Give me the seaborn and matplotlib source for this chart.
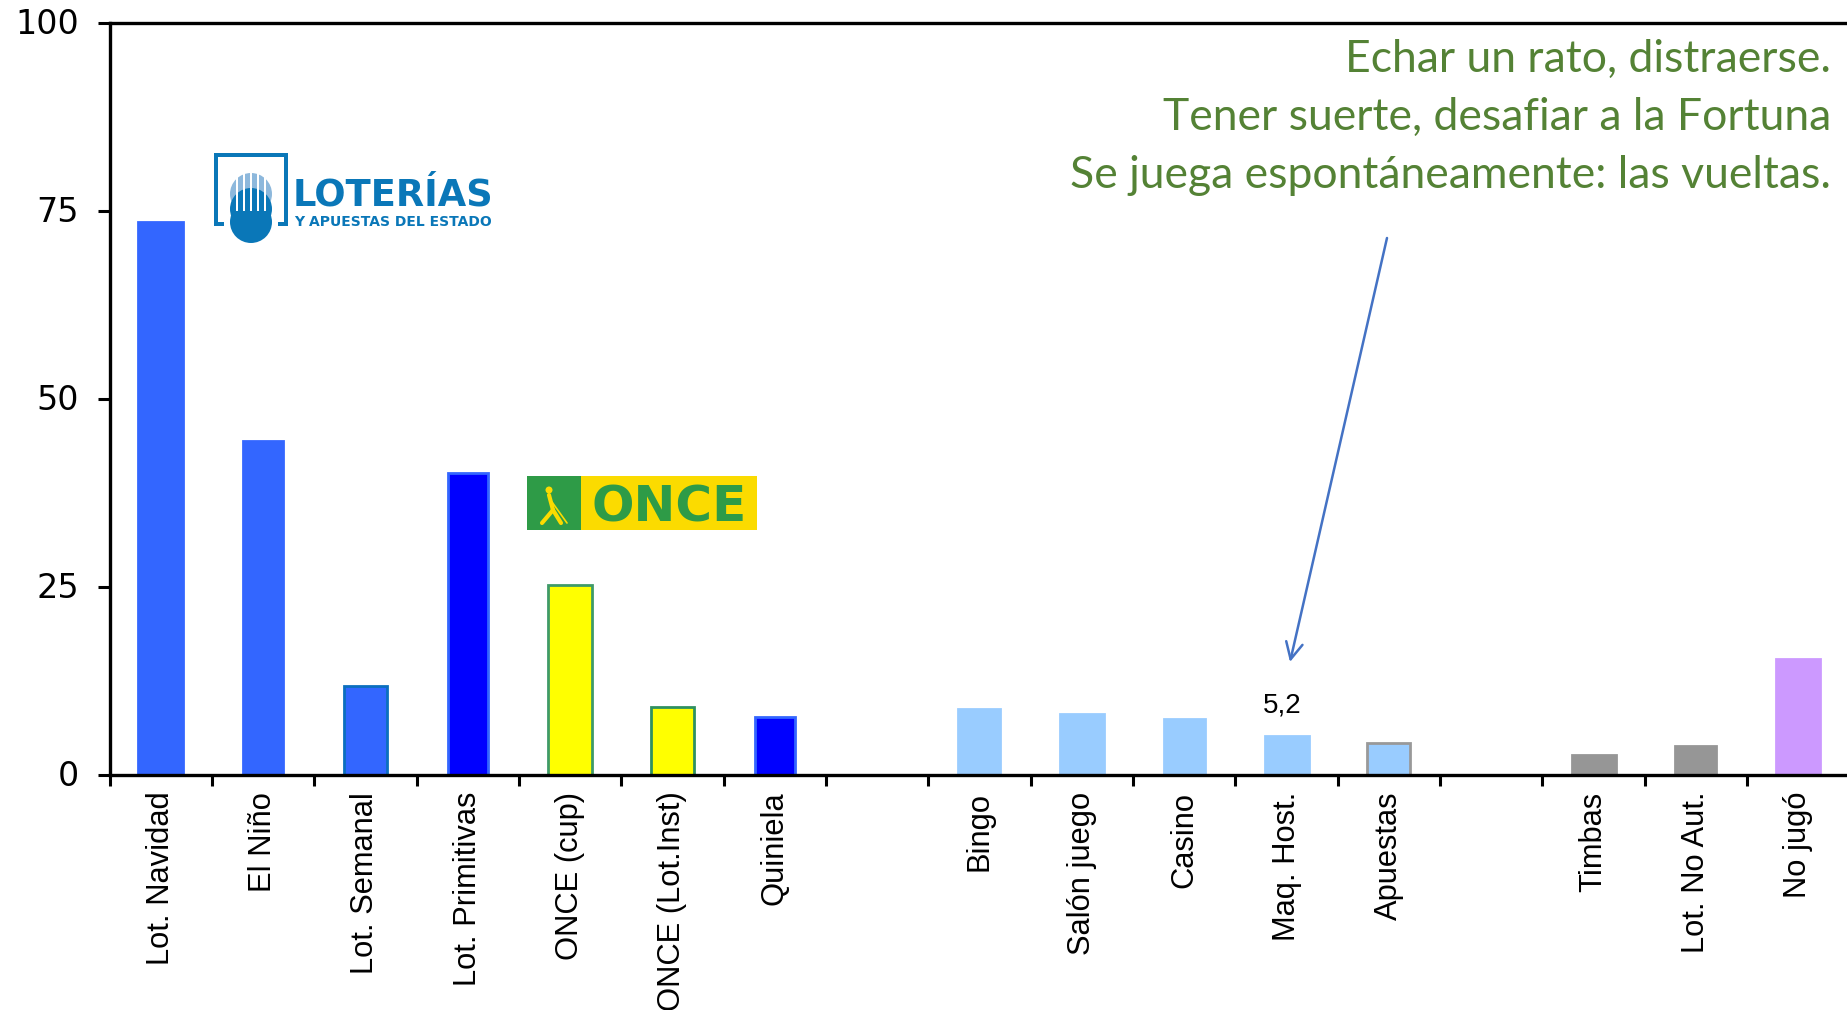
import numpy as np
import pandas as pd
import matplotlib
matplotlib.use("Agg")
import matplotlib.pyplot as plt
from matplotlib.patches import Rectangle, FancyArrowPatch
from matplotlib.transforms import ScaledTranslation
import seaborn as sns

# --- Data ---
juegos = ["Lot. Navidad", "El Niño", "Lot. Semanal", "Lot. Primitivas", "ONCE (cup)",
          "ONCE (Lot.Inst)", "Quiniela", "Bingo", "Salón juego", "Casino",
          "Maq. Host.", "Apuestas", "Timbas", "Lot. No Aut.", "No jugó"]
porcentajes = [73.5, 44.4, 11.9, 40.1, 25.2, 9.1, 7.7, 8.8, 8.1, 7.4, 5.2, 4.2, 2.7, 3.9, 15.4]
# the chart leaves two empty slots between the groups
orden = juegos[:7] + ["_a"] + juegos[7:12] + ["_b"] + juegos[12:]
yticks = [0, 25, 50, 75, 100]
notas = ["Echar un rato, distraerse.",
         "Tener suerte, desafiar a la Fortuna",
         "Se juega espontáneamente: las vueltas."]

rellenos = ["#3366ff", "#3366ff", "#3366ff", "#0000ff", "#ffff00", "#ffff00", "#0000ff",
            "#99ccff", "#99ccff", "#99ccff", "#99ccff", "#99ccff",
            "#969696", "#969696", "#cc99ff"]
bordes = ["#3366ff", "#3366ff", "#0b6fbf", "#3366ff", "#3f9a68", "#2f9060", "#3366ff",
          "#99ccff", "#99ccff", "#99ccff", "#99ccff", "#999999",
          "#969696", "#969696", "#cc99ff"]
# bar widths are not all the same in the original
anchos = [0.44, 0.40, 0.42, 0.39, 0.43, 0.42, 0.39, 0.41, 0.43, 0.40, 0.43, 0.42, 0.43, 0.40, 0.43]

W, H = 1847, 1010


def px(x, y):
    # pixel position in the image -> figure fraction
    return x / W, 1 - y / H


sns.set_theme(style="white")
plt.rcParams["font.family"] = ["Liberation Sans", "DejaVu Sans"]

fig = plt.figure(figsize=(W / 100, H / 100), dpi=100, facecolor="white")
x0, y0 = px(109.5, 775)
ax = fig.add_axes([x0, y0, 102.35 * len(orden) / W, (775 - 23) / H])

df = pd.DataFrame({"juego": juegos, "pct": porcentajes})
sns.barplot(data=df, x="juego", y="pct", order=orden, width=0.42, color="#3366ff",
            errorbar=None, ax=ax, zorder=2)
for barra, rel, bor, ancho in zip(ax.patches, rellenos, bordes, anchos):
    centro = barra.get_x() + barra.get_width() / 2
    barra.set_width(ancho)
    barra.set_x(centro - ancho / 2)
    barra.set_facecolor(rel)
    barra.set_edgecolor(bor)
    barra.set_linewidth(2.0)

ax.set_xlim(-0.5, len(orden) - 0.5)
ax.set_ylim(0, 100)
ax.set_xlabel("")
ax.set_ylabel("")
ax.set_yticks(yticks)
ax.tick_params(axis="y", length=9, width=2.2, labelsize=24, labelcolor="black", pad=13, left=True, color="black")
for t in ax.get_yticklabels():
    t.set_family("DejaVu Sans")
    t.set_transform(t.get_transform() + ScaledTranslation(0, 2 / 100, fig.dpi_scale_trans))

# ticks between the categories, labels centred on the bars
ax.set_xticks(np.arange(len(orden) + 1) - 0.5)
ax.set_xticklabels([])
ax.tick_params(axis="x", which="major", length=8, width=2.2, bottom=True, color="black")
centros = [i for i, n in enumerate(orden) if not n.startswith("_")]
ax.set_xticks(centros, minor=True)
ax.set_xticklabels(juegos, minor=True, rotation=90, fontsize=22.2, color="black", va="top", ha="center")
ax.tick_params(axis="x", which="minor", length=0, pad=12)

for lado in ["left", "top", "bottom"]:
    ax.spines[lado].set_visible(True)
    ax.spines[lado].set_color("black")
    ax.spines[lado].set_linewidth(2.4)
ax.spines["right"].set_visible(False)

ax.text(orden.index("Maq. Host.") - 0.04, 9.2, "5,2", fontsize=20, color="black",
        ha="center", va="center")

# --- Green notes ---
for nota, y in zip(notas, [72, 130, 188]):
    fig.text(*px(1831, y), nota, family="Lato", fontsize=32, color="#548235", ha="right", va="baseline")

# --- Arrow ---
fig.add_artist(FancyArrowPatch(px(1387, 238), px(1290, 662), transform=fig.transFigure,
                               arrowstyle="->,head_length=12,head_width=6", color="#4472c4", lw=1.8,
                               shrinkA=0, shrinkB=0))

# --- LOTERIAS logo ---
azul = "#0a77b8"
for xy, w, h in [((214, 153), 74, 4), ((214, 153), 4, 73), ((284, 153), 4, 73),
                 ((214, 222), 10, 4), ((278, 222), 10, 4)]:
    xf, yf = px(xy[0], xy[1] + h)
    fig.add_artist(Rectangle((xf, yf), w / W, h / H, transform=fig.transFigure, color=azul, lw=0))
fig.add_artist(plt.Circle((251, H - 194), 21, transform=None, color="#8db8dc", lw=0))
fig.add_artist(plt.Circle((251, H - 209), 21, transform=None, color=azul, lw=0))
fig.add_artist(plt.Circle((251, H - 222), 21, transform=None, color=azul, lw=0))
for xs in [236, 243, 250, 257, 264]:
    xf, yf = px(xs, 211)
    fig.add_artist(Rectangle((xf, yf), 2 / W, 41 / H, transform=fig.transFigure, color="white", lw=0))
fig.text(*px(293, 206), "LOTERÍAS", family="DejaVu Sans", weight="bold", fontsize=26.5, color=azul, va="baseline")
fig.text(*px(294, 226), "Y APUESTAS DEL ESTADO", family="DejaVu Sans", weight="bold", fontsize=10,
         color=azul, va="baseline")

# --- ONCE logo ---
verde = "#2e9b47"
amarillo = "#fbdb00"
xf, yf = px(527, 530)
fig.add_artist(Rectangle((xf, yf), 54 / W, 54 / H, transform=fig.transFigure, color=verde, lw=0))
xf, yf = px(581, 530)
fig.add_artist(Rectangle((xf, yf), 176 / W, 54 / H, transform=fig.transFigure, color=amarillo, lw=0))
fig.text(*px(592, 522), "ONCE", family="DejaVu Sans", weight="bold", fontsize=36, color=verde, va="baseline")
fig.add_artist(plt.Circle((549, H - 490), 3.5, transform=None, color=amarillo, lw=0))
for a, b, g in [((549, 495), (553, 510), 3), ((553, 510), (542, 523), 3), ((553, 510), (561, 523), 3),
                ((552, 502), (567, 523), 1.2)]:
    fig.add_artist(plt.Line2D([px(*a)[0], px(*b)[0]], [px(*a)[1], px(*b)[1]],
                              transform=fig.transFigure, color=amarillo, lw=g))

fig.savefig("out.png", dpi=100, facecolor="white")
